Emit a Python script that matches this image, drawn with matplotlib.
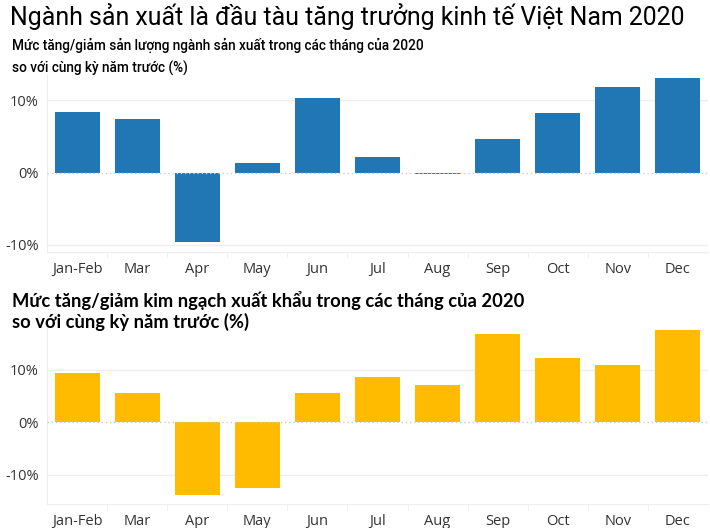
import matplotlib
matplotlib.use("Agg")
import matplotlib.pyplot as plt

months = ['Jan-Feb', 'Mar', 'Apr', 'May', 'Jun', 'Jul', 'Aug', 'Sep', 'Oct', 'Nov', 'Dec']
production = [8.4, 7.4, -9.6, 1.3, 10.3, 2.1, -0.2, 4.6, 8.3, 11.9, 13.1]
exports = [9.4, 5.5, -13.8, -12.6, 5.5, 8.5, 7.1, 16.7, 12.2, 10.8, 17.6]

title = 'Ngành sản xuất là đầu tàu tăng trưởng kinh tế Việt Nam 2020'
sub1 = 'Mức tăng/giảm sản lượng ngành sản xuất trong các tháng của 2020\nso với cùng kỳ năm trước (%)'
sub2 = 'Mức tăng/giảm kim ngạch xuất khẩu trong các tháng của 2020\nso với cùng kỳ năm trước (%)'

W, H = 710, 528
fig = plt.figure(figsize=(W / 100, H / 100), dpi=100)


def px_axes(x0, y0, x1, y1):
    return fig.add_axes([x0 / W, 1 - y1 / H, (x1 - x0) / W, (y1 - y0) / H])


def style(ax, vals, color, ylim):
    x = range(len(vals))
    ax.bar(x, vals, width=0.75, color=color, zorder=3)
    ax.set_xlim(-0.5, len(vals) - 0.5)
    ax.set_ylim(*ylim)
    ax.set_yticks([-10, 0, 10])
    ax.set_yticklabels(['-10%', '0%', '10%'])
    ax.set_xticks(list(x))
    ax.set_xticklabels(months)
    ax.set_xticks([i + 0.5 for i in range(len(vals) - 1)], minor=True)
    for v in (-10, 10):
        ax.axhline(v, color='#eeeeee', lw=1, zorder=1)
    ax.axhline(0, color='#cccccc', lw=1, ls=(0, (1, 2)), zorder=4)
    for s in ('top', 'right'):
        ax.spines[s].set_visible(False)
    ax.spines['left'].set_color('#eeeeee')
    ax.spines['bottom'].set_color('#eeeeee')
    ax.tick_params(axis='y', length=0, pad=6, labelsize=10.5, labelcolor='#333333')
    ax.tick_params(axis='x', which='major', length=0, pad=7, labelsize=10.5, labelcolor='#333333')
    ax.tick_params(axis='x', which='minor', length=4, color='#eeeeee')
    for lab in ax.get_xticklabels() + ax.get_yticklabels():
        lab.set_family('Open Sans')


ax1 = px_axes(47, 75, 708, 252)
style(ax1, production, '#2176b4', (-11.0, 13.5))

ax2 = px_axes(47, 325, 708, 504)
style(ax2, exports, '#ffbb00', (-15.6, 18.5))

fig.text(10 / W, 1 - 17 / H, title, ha='left', va='center', fontsize=17.9,
         family=['Roboto', 'DejaVu Sans'])
fig.text(12 / W, 1 - 57 / H, sub1, ha='left', va='center', fontsize=9.8, fontweight='medium',
         family=['Roboto', 'DejaVu Sans'], linespacing=1.7)
fig.text(12 / W, 1 - 311 / H, sub2, ha='left', va='center', fontsize=13.2, fontweight='bold',
         family=['Lato', 'DejaVu Sans'], linespacing=1.2)

fig.savefig('out.png', dpi=100)
